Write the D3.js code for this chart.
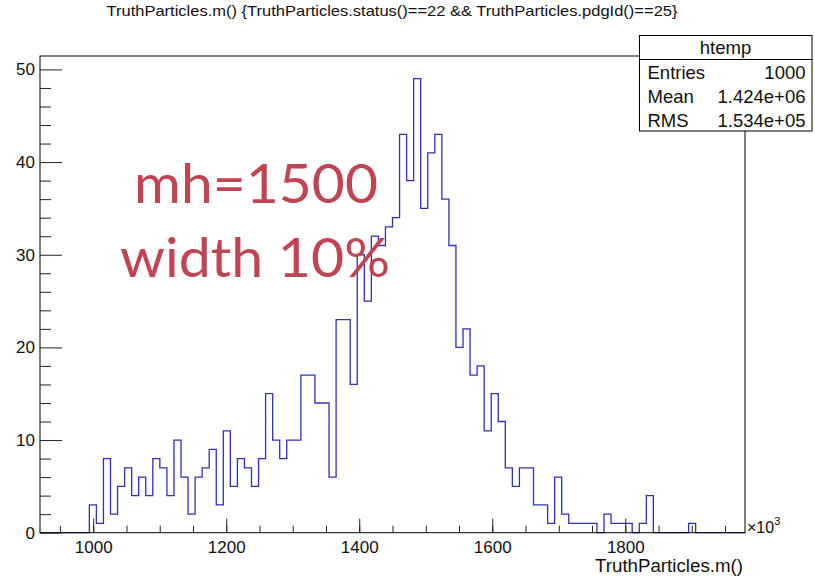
<!DOCTYPE html>
<html>
<head>
<meta charset="utf-8">
<script src="https://cdn.jsdelivr.net/npm/d3@7"></script>
<style>
  body { margin: 0; background: #fff; }
  svg { display: block; font-family: "Liberation Sans", Arial, sans-serif; }
</style>
</head>
<body>
<svg id="chart" width="815" height="578"></svg>
<script>
// htemp: 100 bins (x in units of 10^3)
const xMin = 920;
const binWidth = 10.6;
const counts = [
  0, 0, 0, 0, 0, 0, 0, 3, 1, 8,
  2, 5, 7, 4, 6, 4, 8, 7, 4, 10,
  6, 2, 6, 7, 9, 3, 11, 5, 8, 7,
  5, 8, 15, 10, 8, 10, 10, 17, 17, 14,
  14, 6, 23, 23, 16, 30, 25, 32, 31, 33,
  34, 43, 38, 49, 35, 41, 43, 36, 31, 20,
  22, 17, 18, 11, 15, 12, 7, 5, 7, 7,
  3, 3, 1, 6, 2, 1, 1, 1, 1, 0,
  2, 1, 1, 1, 0, 1, 4, 0, 0, 0,
  0, 0, 1, 0, 0, 0, 0, 0, 0, 0
];
const yMax = 51.45;

const xMajorTicks = [1000, 1200, 1400, 1600, 1800];
const xMinorTicks = [950, 1000, 1050, 1100, 1150, 1200, 1250, 1300, 1350, 1400, 1450,
                     1500, 1550, 1600, 1650, 1700, 1750, 1800, 1850, 1900, 1950];
const yMajorTicks = [0, 10, 20, 30, 40, 50];
const yMinorTicks = [2, 4, 6, 8, 12, 14, 16, 18, 22, 24, 26, 28, 32, 34, 36, 38, 42, 44, 46, 48];

const titleText = "TruthParticles.m() {TruthParticles.status()==22 && TruthParticles.pdgId()==25}";
const xTitle = "TruthParticles.m()";
const statTitle = "htemp";
const statNames = ["Entries", "Mean", "RMS"];
const statValues = ["1000", "1.424e+06", "1.534e+05"];
const noteLines = ["mh=1500", "width 10%"];

const svg = d3.select('#chart');
svg.append('rect').attr('width', 815).attr('height', 578).attr('fill', '#fff');

const margin = { top: 56, right: 70, bottom: 45.3, left: 40 },
      width = 815 - margin.left - margin.right,
      height = 578 - margin.top - margin.bottom;

const g = svg.append('g').attr('transform', `translate(${margin.left},${margin.top})`);

const x = d3.scaleLinear().domain([xMin, xMin + binWidth * counts.length]).range([0, width]);
const y = d3.scaleLinear().domain([0, yMax]).range([height, 0]);

// histogram outline
const pts = counts.map((c, i) => [xMin + i * binWidth, c]);
pts.push([xMin + counts.length * binWidth, counts[counts.length - 1]]);
const line = d3.line().x(d => x(d[0])).y(d => y(d[1])).curve(d3.curveStepAfter);
g.append('path').datum(pts)
  .attr('fill', 'none').attr('stroke', '#3030b8').attr('stroke-width', 1.3).attr('d', line);

// frame
g.append('rect').attr('width', width).attr('height', height)
  .attr('fill', 'none').attr('stroke', '#000').attr('stroke-width', 1);

// axes, ticks pointing inward like ROOT
function styleAxis(sel) {
  sel.attr('font-family', null).attr('font-size', 17);
  sel.select('.domain').remove();
  sel.selectAll('line').attr('stroke', '#222');
  sel.selectAll('text').attr('fill', '#111');
}
g.append('g').attr('transform', `translate(0,${height})`)
  .call(d3.axisBottom(x).tickValues(xMinorTicks).tickSize(-7).tickFormat(''))
  .call(styleAxis);
g.append('g').attr('transform', `translate(0,${height})`)
  .call(d3.axisBottom(x).tickValues(xMajorTicks).tickSize(-14).tickPadding(8).tickFormat(d3.format('d')))
  .call(styleAxis);
g.append('g')
  .call(d3.axisLeft(y).tickValues(yMinorTicks).tickSize(-11).tickFormat(''))
  .call(styleAxis);
g.append('g')
  .call(d3.axisLeft(y).tickValues(yMajorTicks).tickSize(-22).tickPadding(5).tickFormat(d3.format('d')))
  .call(styleAxis);

// x10^3 exponent
const expo = svg.append('text').attr('x', margin.left + width + 2).attr('y', margin.top + height)
  .attr('font-size', 16).attr('fill', '#111').text('×10');
expo.append('tspan').attr('font-size', 11).attr('dy', -8).text('3');

// x title
svg.append('text').attr('x', margin.left + width - 2).attr('y', 572)
  .attr('text-anchor', 'end').attr('font-size', 17.5).attr('fill', '#111')
  .attr('textLength', 148).attr('lengthAdjust', 'spacingAndGlyphs').text(xTitle);

// title
svg.append('text').attr('x', 392).attr('y', 16).attr('text-anchor', 'middle')
  .attr('font-size', 15).attr('fill', '#111')
  .attr('textLength', 571).attr('lengthAdjust', 'spacingAndGlyphs').text(titleText);

// annotation
const noteX = [134, 120], noteY = [203, 277], noteLen = [244, 270];
svg.selectAll('.note').data(noteLines).enter().append('text')
  .attr('class', 'note')
  .attr('x', (d, i) => noteX[i])
  .attr('y', (d, i) => noteY[i])
  .attr('font-family', 'Lato, sans-serif')
  .attr('font-size', 55)
  .attr('fill', '#c14453')
  .attr('textLength', (d, i) => noteLen[i])
  .attr('lengthAdjust', 'spacingAndGlyphs')
  .text(d => d);

// stats box
const box = svg.append('g').attr('transform', 'translate(639.5,35.5)');
box.append('rect').attr('width', 172.5).attr('height', 95.5)
  .attr('fill', '#fff').attr('stroke', '#000');
box.append('line').attr('x1', 0).attr('x2', 172.5).attr('y1', 24).attr('y2', 24).attr('stroke', '#000');
box.append('text').attr('x', 86).attr('y', 18.5).attr('text-anchor', 'middle')
  .attr('font-size', 18.5).attr('fill', '#111').text(statTitle);
const rows = box.selectAll('.row').data(statNames).enter().append('g')
  .attr('class', 'row').attr('transform', (d, i) => `translate(0,${43 + i * 24})`);
rows.append('text').attr('x', 8).attr('font-size', 18.5).attr('fill', '#111').text(d => d);
rows.append('text').attr('x', 166).attr('text-anchor', 'end').attr('font-size', 18.5)
  .attr('fill', '#111').text((d, i) => statValues[i]);
</script>
</body>
</html>
